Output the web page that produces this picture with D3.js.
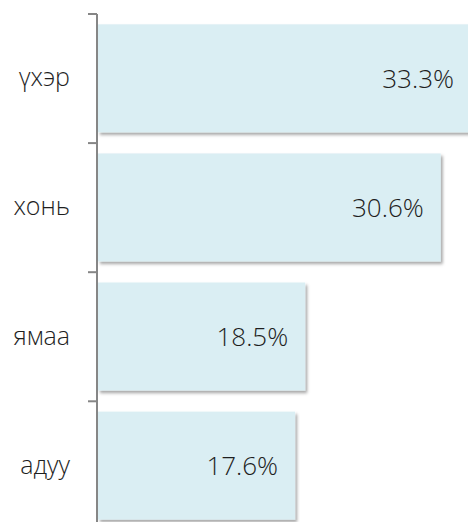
<!DOCTYPE html>
<html>
<head>
<meta charset="utf-8">
<script src="https://cdn.jsdelivr.net/npm/d3@7"></script>
<style>
  html, body { margin: 0; padding: 0; background: #fff; }
  svg { display: block; }
  .cat-label { font-family: "Open Sans", sans-serif; font-size: 25px; font-weight: 300; fill: #1e1e1e; }
  .val-label { font-family: "Open Sans", sans-serif; font-size: 26px; font-weight: 300; fill: #1e1e1e; }
</style>
</head>
<body>
<div id="chart"></div>
<script>
const categories = ['үхэр', 'хонь', 'ямаа', 'адуу'];
const shares     = [33.3, 30.6, 18.5, 17.6];
const valueLabels = ['33.3%', '30.6%', '18.5%', '17.6%'];

const width = 468, height = 522;
const axisX = 97;

const svg = d3.select('#chart').append('svg')
  .attr('width', width)
  .attr('height', height);

// soft drop shadow under each bar
const defs = svg.append('defs');
const f = defs.append('filter').attr('id', 'shadow')
  .attr('x', '-5%').attr('y', '-5%').attr('width', '115%').attr('height', '115%');
f.append('feDropShadow')
  .attr('dx', 2).attr('dy', 2.5).attr('stdDeviation', 1.4)
  .attr('flood-color', '#000').attr('flood-opacity', 0.35);

const data = categories.map((c, i) => ({ key: c, value: shares[i], label: valueLabels[i] }));

// chart runs past the bottom edge, as in the reference crop
const yScale = d3.scaleBand()
  .domain(categories)
  .range([14, 530])
  .paddingInner(0.163)
  .paddingOuter(0.08);

const xScale = d3.scaleLinear()
  .domain([0, 40])
  .range([axisX + 1, axisX + 1 + 448]);

// --- Bars ---
svg.selectAll('.bar')
  .data(data, d => d.key)
  .join('rect')
    .attr('class', 'bar')
    .attr('x', xScale(0))
    .attr('y', d => yScale(d.key))
    .attr('width', d => xScale(d.value) - xScale(0))
    .attr('height', yScale.bandwidth())
    .attr('fill', '#DAEEF3')
    .attr('filter', 'url(#shadow)');

// --- Value labels, right-aligned inside the bar ---
svg.selectAll('.val-label')
  .data(data, d => d.key)
  .join('text')
    .attr('class', 'val-label')
    .attr('x', d => xScale(d.value) - 17)
    .attr('y', d => yScale(d.key) + yScale.bandwidth() / 2)
    .attr('dy', '0.36em')
    .attr('text-anchor', 'end')
    .text(d => d.label);

// --- Category axis: line, ticks at band boundaries, labels at centres ---
const step = yScale.step();
const y0 = yScale.range()[0];
const boundaries = d3.range(categories.length + 1).map(i => y0 + i * step);

svg.append('line')
  .attr('x1', axisX).attr('x2', axisX)
  .attr('y1', y0).attr('y2', height + 10)
  .attr('stroke', '#868686')
  .attr('stroke-width', 2);

svg.selectAll('.tick-mark')
  .data(boundaries)
  .join('line')
    .attr('class', 'tick-mark')
    .attr('x1', axisX - 9).attr('x2', axisX)
    .attr('y1', d => d).attr('y2', d => d)
    .attr('stroke', '#868686')
    .attr('stroke-width', 2);

const labelAxis = svg.append('g')
  .attr('transform', `translate(${axisX},0)`)
  .call(d3.axisLeft(yScale).tickSize(0).tickPadding(27));
labelAxis.select('.domain').remove();
labelAxis.selectAll('text')
  .attr('class', 'cat-label')
  .attr('fill', null)
  .attr('font-size', null)
  .attr('font-family', null);
</script>
</body>
</html>
